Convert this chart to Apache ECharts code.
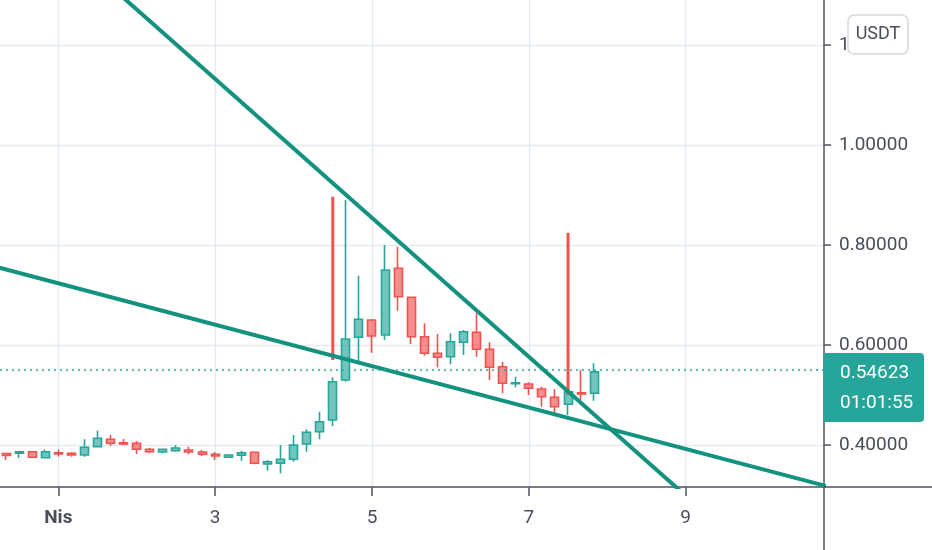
<!DOCTYPE html>
<html><head><meta charset="utf-8">
<script src="https://cdn.jsdelivr.net/npm/echarts@6/dist/echarts.min.js"></script>
<style>html,body{margin:0;padding:0;background:#fff}#c{width:932px;height:550px}</style>
</head><body><div id="c"></div>
<script>
// 4-hour candles, index counted from 1 Nisan 00:00
const candleIndex = [-4,-3,-2,-1,0,1,2,3,4,5,6,7,8,9,10,11,12,13,14,15,16,17,18,19,20,21,22,23,24,25,26,27,28,29,30,31,32,33,34,35,36,37,38,39,40,41];
const opens  = [0.383,0.3834,0.3866,0.3746,0.3846,0.3834,0.380,0.3966,0.4114,0.4046,0.4034,0.3914,0.386,0.3886,0.390,0.386,0.3814,0.3754,0.3794,0.3854,0.362,0.3634,0.3714,0.402,0.4266,0.450,0.530,0.6154,0.650,0.620,0.7534,0.6954,0.6166,0.5834,0.5766,0.6054,0.6254,0.5914,0.5566,0.5226,0.522,0.512,0.4954,0.4814,0.5046,0.5034];
const closes = [0.379,0.3866,0.3754,0.3866,0.382,0.380,0.3954,0.4134,0.4034,0.402,0.3914,0.3866,0.3914,0.394,0.386,0.3814,0.378,0.380,0.3846,0.3634,0.3666,0.3714,0.400,0.4254,0.4466,0.5266,0.612,0.6514,0.618,0.750,0.6966,0.6166,0.5834,0.5754,0.6066,0.6266,0.5914,0.5554,0.5234,0.5246,0.5134,0.4966,0.4766,0.5066,0.502,0.54623];
const lows   = [0.370,0.374,0.375,0.3746,0.377,0.3766,0.3766,0.3954,0.398,0.400,0.382,0.3834,0.3834,0.3866,0.3814,0.378,0.370,0.3746,0.3686,0.3614,0.3486,0.3434,0.3666,0.3866,0.4114,0.438,0.5266,0.5666,0.5846,0.610,0.6686,0.602,0.5786,0.5554,0.5614,0.580,0.5766,0.530,0.5034,0.5154,0.500,0.4766,0.4634,0.460,0.4866,0.4886];
const highs  = [0.384,0.387,0.387,0.391,0.391,0.3854,0.4114,0.4286,0.420,0.412,0.408,0.3946,0.392,0.400,0.3966,0.390,0.386,0.3806,0.3886,0.3866,0.370,0.400,0.420,0.4314,0.4666,0.5354,0.890,0.7386,0.652,0.800,0.7966,0.6966,0.6434,0.622,0.6234,0.630,0.6634,0.6054,0.5666,0.5366,0.5254,0.5166,0.5114,0.514,0.550,0.5634];
// red vertical spikes (drawn marks)
const spikeIndex  = [21, 39];
const spikeTop    = [0.8966, 0.8246];
const spikeBottom = [0.570, 0.500];
// trend lines, [day, price] anchor points
const upperTrend = [[1.6, 1.3266], [9.2, 0.2710]];
const lowerTrend = [[0, 0.765], [11, 0.3092]];
const xTickDays = [1, 3, 5, 7, 9];
const xTickLabels = ['Nis', '3', '5', '7', '9'];
const yTickValues = [0.4, 0.6, 0.8, 1.0, 1.2];
const lastPrice = 0.54623;
const countdown = '01:01:55';
const currency = 'USDT';

const FONT = "Roboto,'Noto Sans',sans-serif";
const FS = 19;
const TXT = '#4a4e5a';
const GRIDC = '#e4e9ef';
const AXC = '#50535e';
const UP = '#26a69a', DOWN = '#ef5350', TREND = '#12927f';

const dayOf = k => 1 + k / 6;
const candleData = candleIndex.map((k, i) => [dayOf(k), opens[i], closes[i], lows[i], highs[i]]);

const chart = echarts.init(document.getElementById('c'), null, {renderer: 'canvas'});
const option = {
  animation: false,
  backgroundColor: '#ffffff',
  grid: {left: 0, right: 108, top: 0, bottom: 63, containLabel: false, outerBoundsMode: 'none'},
  xAxis: {
    type: 'value', min: 0.2566, max: 10.764, position: 'bottom',
    axisLine: {show: true, lineStyle: {color: AXC, width: 1.5}},
    axisTick: {show: true, customValues: xTickDays, length: 9, lineStyle: {color: AXC, width: 1.5}},
    axisLabel: {
      customValues: xTickDays, margin: 22, fontFamily: FONT, fontSize: FS, color: TXT,
      formatter: v => { const i = xTickDays.indexOf(Math.round(v)); const s = i >= 0 ? xTickLabels[i] : ''; return i === 0 ? '{b|' + s + '}' : s; },
      rich: {b: {fontFamily: FONT, fontSize: FS, fontWeight: 'bold', color: TXT}}
    },
    splitLine: {show: true, lineStyle: {color: GRIDC, width: 1.3}}
  },
  yAxis: {
    type: 'value', min: 0.316, max: 1.29, position: 'right', scale: true,
    axisLine: {show: true, lineStyle: {color: AXC, width: 1.5}},
    axisTick: {show: true, customValues: yTickValues, length: 7, lineStyle: {color: AXC, width: 1.5}},
    axisLabel: {customValues: yTickValues, margin: 15, fontFamily: FONT, fontSize: FS, color: TXT, formatter: v => v.toFixed(5)},
    splitLine: {show: true, lineStyle: {color: GRIDC, width: 1.3}}
  },
  series: [
    {
      type: 'candlestick', data: candleData, barWidth: 8.5, z: 2,
      itemStyle: {color: 'rgba(38,166,154,0.65)', color0: 'rgba(239,83,80,0.65)', borderColor: UP, borderColor0: DOWN, borderWidth: 1.6},
      markLine: {
        silent: true, symbol: ['none', 'none'], label: {show: false},
        lineStyle: {color: UP, type: [2, 4], width: 1.5},
        data: [{yAxis: lastPrice}]
      }
    },
    ...spikeIndex.map((k, i) => ({
      type: 'line', data: [[dayOf(k), spikeTop[i]], [dayOf(k), spikeBottom[i]]],
      symbol: 'none', z: 3, lineStyle: {color: DOWN, width: 3}
    })),
    {type: 'line', data: upperTrend, symbol: 'none', z: 4, clip: true, lineStyle: {color: TREND, width: 4}},
    {type: 'line', data: lowerTrend, symbol: 'none', z: 4, clip: true, lineStyle: {color: TREND, width: 4}}
  ]
};
chart.setOption(option);

const py = chart.convertToPixel({yAxisIndex: 0}, lastPrice);
const gx = chart.convertToPixel({xAxisIndex: 0}, 10.764);
const gy = chart.convertToPixel({yAxisIndex: 0}, 0.316);
chart.setOption({
  graphic: [
    {type: 'line', shape: {x1: gx, y1: gy, x2: gx, y2: 550}, style: {stroke: AXC, lineWidth: 1.5}, z: 10},
    {type: 'line', shape: {x1: gx, y1: gy, x2: 932, y2: gy}, style: {stroke: AXC, lineWidth: 1.5}, z: 10},
    {type: 'rect', shape: {x: gx, y: py - 19, width: 100, height: 69, r: [0, 4, 4, 0]}, style: {fill: UP}, z: 20},
    {type: 'text', x: gx + 16, y: py + 1, style: {text: lastPrice.toFixed(5), fill: '#ffffff', font: FS + 'px ' + FONT, textVerticalAlign: 'middle'}, z: 21},
    {type: 'text', x: gx + 16, y: py + 31, style: {text: countdown, fill: '#ffffff', font: FS + 'px ' + FONT, textVerticalAlign: 'middle'}, z: 21},
    {type: 'rect', shape: {x: 848, y: 15, width: 60, height: 39, r: 6}, style: {fill: '#ffffff', stroke: '#d4d7dd', lineWidth: 1.5}, z: 20},
    {type: 'text', x: 878, y: 34.5, style: {text: currency, fill: TXT, font: '18px ' + FONT, textAlign: 'center', textVerticalAlign: 'middle'}, z: 21}
  ]
});
</script></body></html>
